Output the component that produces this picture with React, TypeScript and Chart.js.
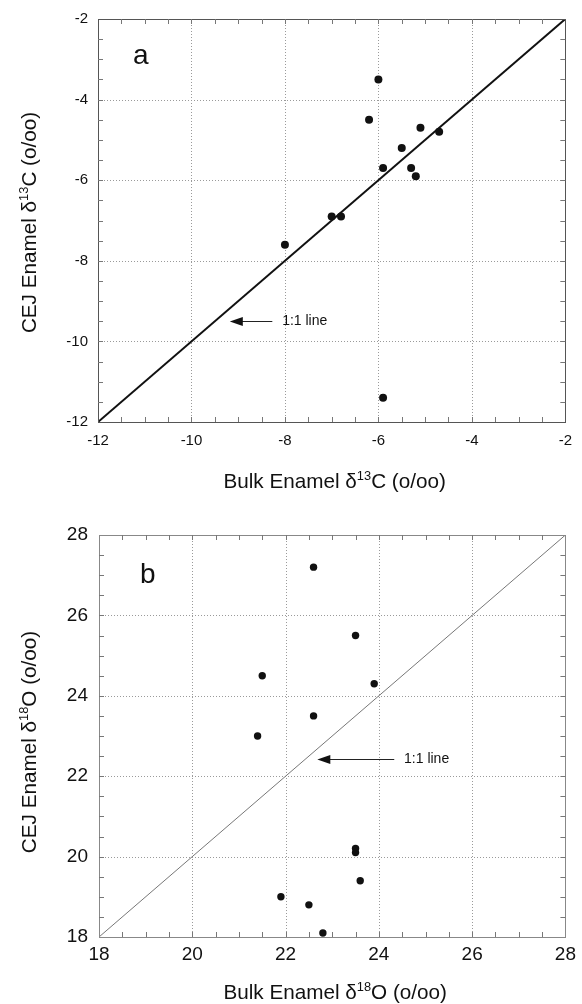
import React, { useEffect, useRef } from "react";
import { Chart, registerables } from "chart.js";

Chart.register(...registerables);

const FONT = '"Liberation Sans", Arial, Helvetica, sans-serif';

// ---------- Panel a: carbon ----------
const carbonBulk = [-8.0, -7.0, -6.8, -6.2, -6.0, -5.9, -5.5, -5.3, -5.2, -5.1, -4.7, -5.9];
const carbonCej = [-7.6, -6.9, -6.9, -4.5, -3.5, -5.7, -5.2, -5.7, -5.9, -4.7, -4.8, -11.4];
const carbonTicks = [-12, -10, -8, -6, -4, -2];
const carbonOneToOne = [-12, -2];
const carbonArrow = { tipX: -9.18, tailX: -8.27, textX: -8.06, y: -9.49 };

// ---------- Panel b: oxygen ----------
const oxygenBulk = [22.6, 23.5, 21.5, 23.9, 22.6, 21.4, 23.5, 23.5, 23.6, 21.9, 22.5, 22.8];
const oxygenCej = [27.2, 25.5, 24.5, 24.3, 23.5, 23.0, 20.2, 20.1, 19.4, 19.0, 18.8, 18.1];
const oxygenTicks = [18, 20, 22, 24, 26, 28];
const oxygenOneToOne = [18, 28];
const oxygenArrow = { tipX: 22.68, tailX: 24.33, textX: 24.54, y: 22.42 };

type Seg = { t: string; sup?: boolean };

const carbonXTitle: Seg[] = [{ t: "Bulk Enamel \u03b4" }, { t: "13", sup: true }, { t: "C (o/oo)" }];
const carbonYTitle: Seg[] = [{ t: "CEJ Enamel \u03b4" }, { t: "13", sup: true }, { t: "C (o/oo)" }];
const oxygenXTitle: Seg[] = [{ t: "Bulk Enamel \u03b4" }, { t: "18", sup: true }, { t: "O (o/oo)" }];
const oxygenYTitle: Seg[] = [{ t: "CEJ Enamel \u03b4" }, { t: "18", sup: true }, { t: "O (o/oo)" }];

const ARROW_LABEL = "1:1 line";

type PanelCfg = {
  letter: string;
  bulk: number[];
  cej: number[];
  ticks: number[];
  oneToOne: number[];
  arrow: { tipX: number; tailX: number; textX: number; y: number };
  xTitle: Seg[];
  yTitle: Seg[];
  top: number;
  height: number;
  padTop: number;
  padRight: number;
  yWidth: number;
  xHeight: number;
  tickSize: number;
  xTickPad: number;
  yTickPad: number;
  lineColor: string;
  lineWidth: number;
  frameColor: string;
  pointRadius: number;
  xTitleOffset: number;
  yTitleX: number;
  yTitleShift: number;
  letterDX: number;
  letterDY: number;
};

const TITLE_SIZE = 20.7;

const font = (size: number) => `${size}px ${FONT}`;

function segWidth(ctx: CanvasRenderingContext2D, segs: Seg[], size: number) {
  let w = 0;
  for (const s of segs) {
    ctx.font = font(s.sup ? size * 0.62 : size);
    w += ctx.measureText(s.t).width;
  }
  return w;
}

function drawRich(
  ctx: CanvasRenderingContext2D,
  segs: Seg[],
  cx: number,
  cy: number,
  size: number,
  rotate: boolean
) {
  ctx.save();
  ctx.translate(cx, cy);
  if (rotate) ctx.rotate(-Math.PI / 2);
  ctx.textAlign = "left";
  ctx.textBaseline = "alphabetic";
  ctx.fillStyle = "#111";
  const w = segWidth(ctx, segs, size);
  let x = -w / 2;
  for (const s of segs) {
    const sz = s.sup ? size * 0.62 : size;
    ctx.font = font(sz);
    ctx.fillText(s.t, x, s.sup ? -size * 0.4 : 0);
    x += ctx.measureText(s.t).width;
  }
  ctx.restore();
}

function makePlugin(cfg: PanelCfg) {
  return {
    id: "decor" + cfg.letter,
    beforeDatasetsDraw(chart: any) {
      const { ctx, chartArea: a, scales } = chart;
      const x = scales.x;
      const y = scales.y;
      ctx.save();
      ctx.strokeStyle = "#9a9a9a";
      ctx.lineWidth = 1;
      ctx.setLineDash([1, 2]);
      for (const v of cfg.ticks) {
        const px = Math.round(x.getPixelForValue(v)) + 0.5;
        ctx.beginPath();
        ctx.moveTo(px, a.top);
        ctx.lineTo(px, a.bottom);
        ctx.stroke();
        const py = Math.round(y.getPixelForValue(v)) + 0.5;
        ctx.beginPath();
        ctx.moveTo(a.left, py);
        ctx.lineTo(a.right, py);
        ctx.stroke();
      }
      ctx.restore();
    },
    afterDraw(chart: any) {
      const { ctx, chartArea: a, scales } = chart;
      const x = scales.x;
      const y = scales.y;
      ctx.save();
      // frame
      ctx.strokeStyle = cfg.frameColor;
      ctx.lineWidth = 1;
      ctx.setLineDash([]);
      ctx.strokeRect(
        Math.round(a.left) + 0.5,
        Math.round(a.top) + 0.5,
        Math.round(a.right - a.left),
        Math.round(a.bottom - a.top)
      );
      // minor ticks every half unit, inward, on all sides
      const lo = cfg.ticks[0];
      const hi = cfg.ticks[cfg.ticks.length - 1];
      const tl = 5;
      ctx.strokeStyle = "#777";
      for (let k = 1; k < (hi - lo) * 2; k++) {
        const v = lo + k / 2;
        const px = Math.round(x.getPixelForValue(v)) + 0.5;
        const py = Math.round(y.getPixelForValue(v)) + 0.5;
        ctx.beginPath();
        ctx.moveTo(px, a.bottom);
        ctx.lineTo(px, a.bottom - tl);
        ctx.moveTo(px, a.top);
        ctx.lineTo(px, a.top + tl);
        ctx.moveTo(a.left, py);
        ctx.lineTo(a.left + tl, py);
        ctx.moveTo(a.right, py);
        ctx.lineTo(a.right - tl, py);
        ctx.stroke();
      }
      // arrow annotation
      const ay = Math.round(y.getPixelForValue(cfg.arrow.y)) + 0.5;
      const tip = x.getPixelForValue(cfg.arrow.tipX);
      const tail = x.getPixelForValue(cfg.arrow.tailX);
      ctx.strokeStyle = "#222";
      ctx.fillStyle = "#111";
      ctx.beginPath();
      ctx.moveTo(tip + 8, ay);
      ctx.lineTo(tail, ay);
      ctx.stroke();
      ctx.beginPath();
      ctx.moveTo(tip, ay);
      ctx.lineTo(tip + 13, ay - 4.5);
      ctx.lineTo(tip + 13, ay + 4.5);
      ctx.closePath();
      ctx.fill();
      ctx.font = font(14);
      ctx.textAlign = "left";
      ctx.textBaseline = "middle";
      ctx.fillText(ARROW_LABEL, x.getPixelForValue(cfg.arrow.textX), ay);
      // panel letter
      ctx.font = font(28);
      ctx.textBaseline = "alphabetic";
      ctx.fillText(cfg.letter, a.left + cfg.letterDX, a.top + cfg.letterDY);
      ctx.restore();
      // axis titles
      const cxMid = (a.left + a.right) / 2;
      const cyMid = (a.top + a.bottom) / 2;
      drawRich(ctx, cfg.xTitle, cxMid + 3, a.bottom + cfg.xTitleOffset, TITLE_SIZE, false);
      drawRich(ctx, cfg.yTitle, cfg.yTitleX, cyMid + cfg.yTitleShift, TITLE_SIZE, true);
    },
  };
}

function Panel({ cfg }: { cfg: PanelCfg }) {
  const ref = useRef<HTMLCanvasElement | null>(null);
  useEffect(() => {
    if (!ref.current) return;
    const pts = cfg.bulk.map((v, i) => ({ x: v, y: cfg.cej[i] }));
    const line = cfg.oneToOne.map((v) => ({ x: v, y: v }));
    const lo = cfg.ticks[0];
    const hi = cfg.ticks[cfg.ticks.length - 1];
    const axisCommon = (isX: boolean) => ({
      type: "linear" as const,
      min: lo,
      max: hi,
      afterBuildTicks: (s: any) => {
        s.ticks = cfg.ticks.map((v) => ({ value: v }));
      },
      afterFit: (s: any) => {
        if (isX) s.height = cfg.xHeight;
        else s.width = cfg.yWidth;
      },
      grid: { display: false, drawTicks: false },
      border: { display: false },
      ticks: {
        color: "#111",
        font: { family: FONT, size: cfg.tickSize },
        padding: isX ? cfg.xTickPad : cfg.yTickPad,
        callback: (v: any) => String(v),
        maxRotation: 0,
        autoSkip: false,
      },
      title: { display: false },
    });
    const chart = new Chart(ref.current, {
      type: "scatter",
      data: {
        datasets: [
          {
            data: line,
            showLine: true,
            borderColor: cfg.lineColor,
            borderWidth: cfg.lineWidth,
            pointRadius: 0,
            fill: false,
          } as any,
          {
            data: pts,
            backgroundColor: "#111",
            borderColor: "#111",
            pointRadius: cfg.pointRadius,
            borderWidth: 0,
          },
        ],
      },
      options: {
        responsive: false,
        animation: false,
        devicePixelRatio: 1,
        layout: { padding: { top: cfg.padTop, right: cfg.padRight, left: 0, bottom: 0 } },
        plugins: { legend: { display: false }, tooltip: { enabled: false } },
        scales: { x: axisCommon(true), y: axisCommon(false) } as any,
      },
      plugins: [makePlugin(cfg)],
    });
    return () => chart.destroy();
  }, [cfg]);
  return (
    <div style={{ position: "absolute", left: 0, top: cfg.top, width: 582, height: cfg.height }}>
      <canvas ref={ref} width={582} height={cfg.height} style={{ display: "block" }} />
    </div>
  );
}

const panelA: PanelCfg = {
  letter: "a",
  bulk: carbonBulk,
  cej: carbonCej,
  ticks: carbonTicks,
  oneToOne: carbonOneToOne,
  arrow: carbonArrow,
  xTitle: carbonXTitle,
  yTitle: carbonYTitle,
  top: 0,
  height: 502,
  padTop: 17,
  padRight: 10,
  yWidth: 98,
  xHeight: 80,
  tickSize: 15,
  xTickPad: 10,
  yTickPad: 10,
  lineColor: "#111",
  lineWidth: 2,
  frameColor: "#555",
  pointRadius: 4,
  xTitleOffset: 66,
  yTitleX: 36,
  yTitleShift: 2,
  letterDX: 35,
  letterDY: 45,
};

const panelB: PanelCfg = {
  letter: "b",
  bulk: oxygenBulk,
  cej: oxygenCej,
  ticks: oxygenTicks,
  oneToOne: oxygenOneToOne,
  arrow: oxygenArrow,
  xTitle: oxygenXTitle,
  yTitle: oxygenYTitle,
  top: 502,
  height: 502,
  padTop: 33,
  padRight: 13,
  yWidth: 99,
  xHeight: 67,
  tickSize: 19,
  xTickPad: 6,
  yTickPad: 11,
  lineColor: "#777",
  lineWidth: 1,
  frameColor: "#888",
  pointRadius: 3.7,
  xTitleOffset: 62,
  yTitleX: 36,
  yTitleShift: 6,
  letterDX: 41,
  letterDY: 48,
};

export default function App() {
  return (
    <div style={{ position: "absolute", left: 0, top: 0, width: 582, height: 1004, background: "#fff" }}>
      <Panel cfg={panelA} />
      <Panel cfg={panelB} />
    </div>
  );
}
